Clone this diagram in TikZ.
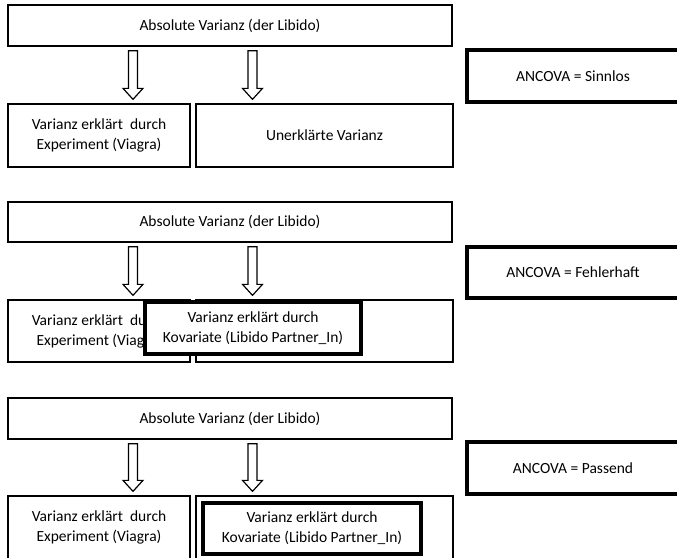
\documentclass[tikz,border=0pt]{standalone}
\usepackage{fontspec}
\setmainfont{Carlito}
\usetikzlibrary{calc}
\tikzset{
  thinbox/.style={draw=black, line width=1.3pt, fill=white, rectangle, inner sep=0pt, align=center,
    font=\fontsize{15.5}{20}\selectfont},
  thickbox/.style={draw=black, line width=3.3pt, fill=white, rectangle, inner sep=0pt, align=center,
    font=\fontsize{15.5}{20}\selectfont},
  barrow/.style={draw=black, line width=1.2pt, fill=white, line join=miter}
}
\newcommand{\blockarrow}[3]{%
  \draw[barrow] let \p1=(#1.south), \p2=(#2.north) in
    (#3pt-4.5pt,\y1-4pt) -- (#3pt+4.5pt,\y1-4pt) -- (#3pt+4.5pt,\y2+15pt) --
    (#3pt+10pt,\y2+15pt) -- (#3pt,\y2+4pt) -- (#3pt-10pt,\y2+15pt) --
    (#3pt-4.5pt,\y2+15pt) -- cycle;}
\begin{document}
\begin{tikzpicture}[x=1pt,y=-1pt]
\useasboundingbox (0,0) rectangle (677,557);
\clip (0,0) rectangle (677,557);
\fill[white] (0,0) rectangle (677,557);

% Panel 1
\node[thinbox, minimum width=444pt, minimum height=41pt] (top1) at (230,25.5) {Absolute Varianz (der Libido)};
\node[thinbox, minimum width=182pt, minimum height=63pt] (bl1) at (99,135.5) {Varianz erklärt\ \ durch\\Experiment (Viagra)};
\node[thinbox, minimum width=257pt, minimum height=63pt] (br1) at (324.5,135.5) {Unerklärte Varianz};
\node[thickbox, minimum width=212pt, minimum height=52pt] (anc1) at (573,76) {ANCOVA = Sinnlos};
\blockarrow{top1}{bl1}{133}
\blockarrow{top1}{br1}{252.5}

% Panel 2
\node[thinbox, minimum width=444pt, minimum height=40pt] (top2) at (230,222) {Absolute Varianz (der Libido)};
\node[thinbox, minimum width=182pt, minimum height=62pt] (bl2) at (99,331) {Varianz erklärt\ \ durch\\Experiment (Viagra)};
\node[thinbox, minimum width=257pt, minimum height=62pt] (br2) at (324.5,331) {};
\node[thickbox, minimum width=216pt, minimum height=52pt] (cov2) at (253,328) {Varianz erklärt durch\\Kovariate (Libido Partner\_In)};
\node[thickbox, minimum width=212pt, minimum height=51pt] (anc2) at (573,272.5) {ANCOVA = Fehlerhaft};
\blockarrow{top2}{bl2}{133}
\blockarrow{top2}{br2}{252.5}

% Panel 3
\node[thinbox, minimum width=444pt, minimum height=41pt] (top3) at (230,418.5) {Absolute Varianz (der Libido)};
\node[thinbox, minimum width=182pt, minimum height=63pt] (bl3) at (99,527.5) {Varianz erklärt\ \ durch\\Experiment (Viagra)};
\node[thinbox, minimum width=257pt, minimum height=63pt] (br3) at (324.5,527.5) {};
\node[thickbox, minimum width=218pt, minimum height=51pt] (cov3) at (312,528.5) {Varianz erklärt durch\\Kovariate (Libido Partner\_In)};
\node[thickbox, minimum width=212pt, minimum height=52pt] (anc3) at (573,468) {ANCOVA = Passend};
\blockarrow{top3}{bl3}{133}
\blockarrow{top3}{br3}{252.5}
\end{tikzpicture}
\end{document}
